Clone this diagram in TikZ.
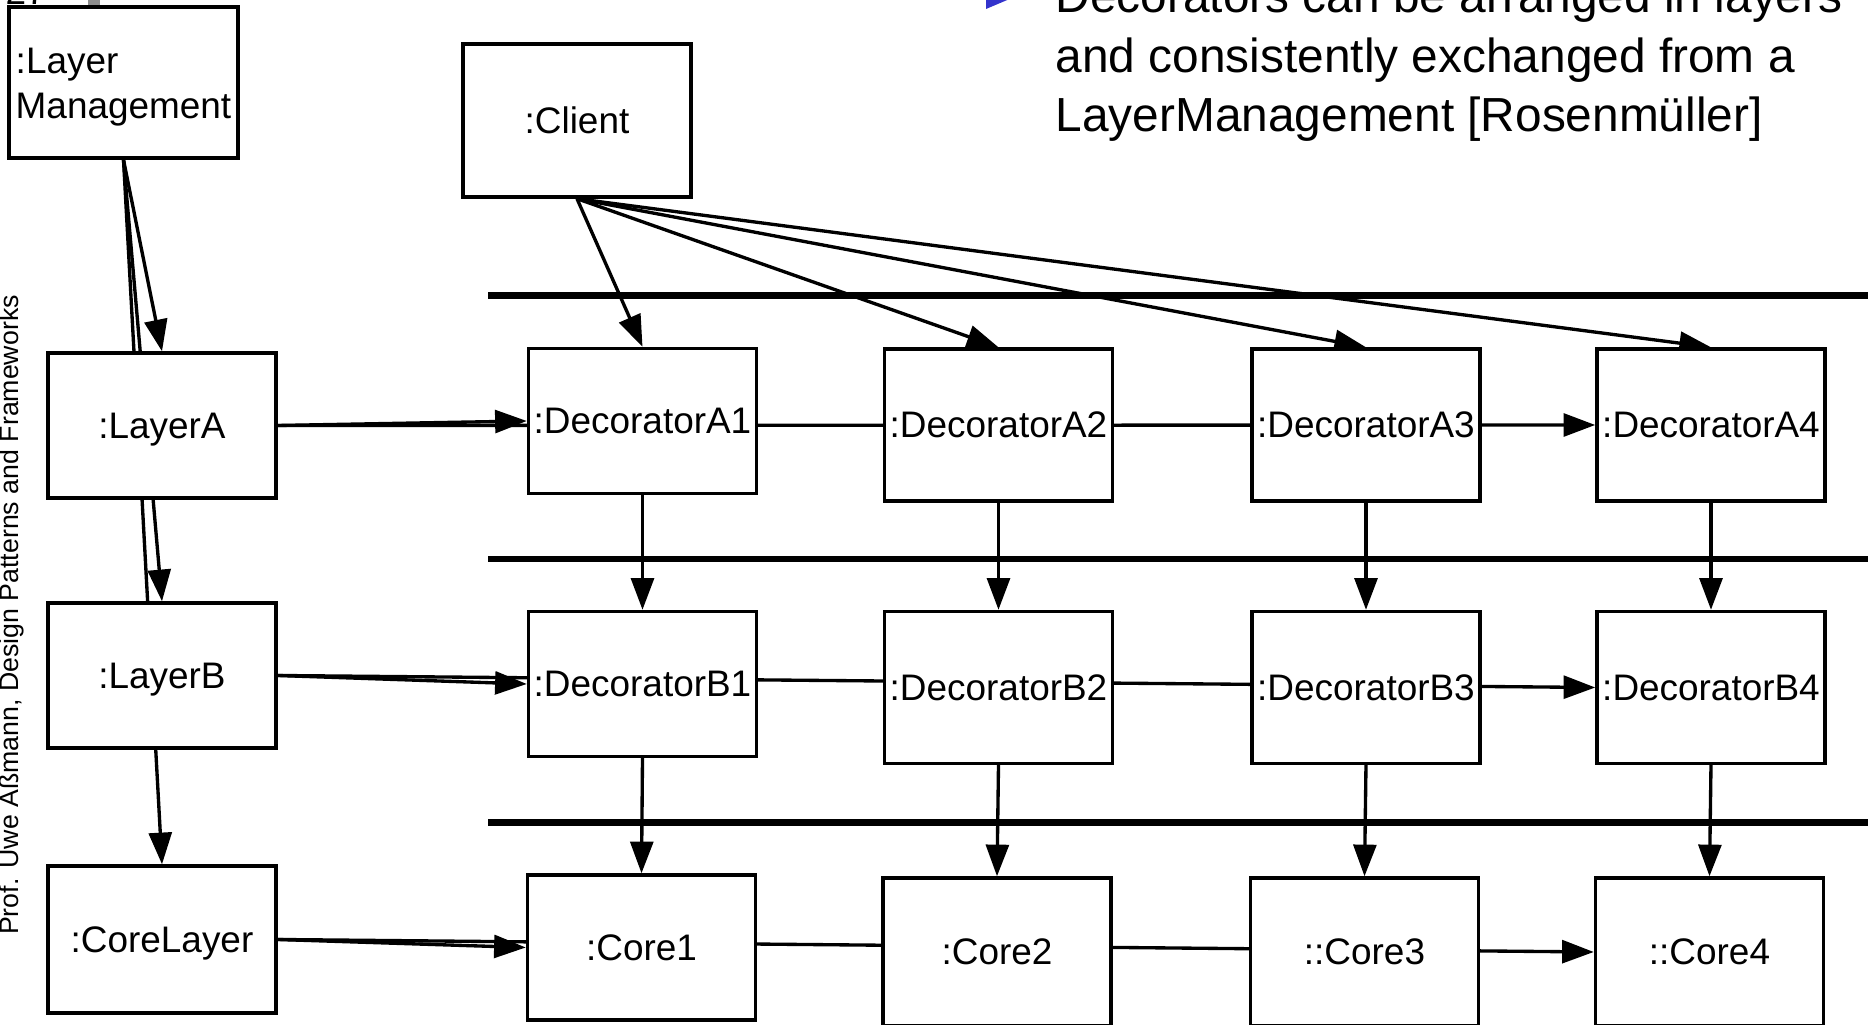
\documentclass[tikz,border=0pt]{standalone}
\usepackage{fontspec}
\setmainfont{Liberation Sans}
\usepackage{xcolor}
\usetikzlibrary{arrows.meta, backgrounds}

\definecolor{bullet}{RGB}{51,51,204}
\definecolor{balken}{RGB}{140,140,140}

\begin{document}
\begin{tikzpicture}[x=0.01cm, y=-0.01cm, line width=0.95pt,
		>={Triangle[length=9pt,width=6.5pt]},
		obj/.style={draw, fill=white, inner sep=0pt, minimum width=2.28cm, minimum height=1.52cm, text height=0.716em, text depth=0pt, font=\fontsize{10.5}{12.8}\selectfont},
		kurz/.style={minimum height=1.45cm},
		verb/.style={->, line width=0.95pt},
		trenner/.style={line width=1.95pt}]
		\useasboundingbox (0,0) rectangle (1868,1025);
		
		% Kopfzeile
		\fill[balken] (88,0) rectangle (100,8);
		\node[anchor=base west, inner sep=0pt, font=\fontsize{10.5}{12}\selectfont] (nr) at (4,5) {27};
		\fill[bullet] (986,-13) -- (1012,-2) -- (986,9) -- cycle;
		\node[anchor=base west, inner sep=0pt, font=\fontsize{13.6}{17}\selectfont] (txtA) at (1054,13) {Decorators can be arranged in layers};
		\node[anchor=base west, inner sep=0pt, font=\fontsize{13.6}{17}\selectfont] (txtB) at (1054,73) {and consistently exchanged from a};
		\node[anchor=base west, inner sep=0pt, font=\fontsize{13.6}{17}\selectfont] (txtC) at (1054,131.5) {LayerManagement [Rosenmüller]};
		\node[rotate=90, anchor=base, inner sep=0pt, font=\fontsize{7.6}{9}\selectfont] (autor) at (18.5,615) {Prof. Uwe Aßmann, Design Patterns and Frameworks};
		
		% Schichten
		\node[obj, minimum width=2.29cm, minimum height=1.51cm, text height=, text depth=, align=left] (lm) at (123.5,82.5) {\rule{0pt}{10pt}:Layer\\Management};
		\node[obj, minimum height=1.53cm] (client) at (577,120.5) {:Client};
		\node[obj, kurz] (layA) at (162,425.5) {:LayerA};
		\node[obj, kurz] (layB) at (162,675.5) {:LayerB};
		\node[obj, minimum height=1.47cm] (core) at (162,939.5) {:CoreLayer};
		
		% Trennlinien
		\draw[trenner] (488,295.5) -- (1868,295.5);
		\draw[trenner] (488,559) -- (1868,559);
		\draw[trenner] (488,822.5) -- (1868,822.5);
		
		% Dekorierer
		\node[obj, kurz] (decA1) at (642.5,421) {:DecoratorA1};
		\node[obj, kurz] (decB1) at (642.5,684) {:DecoratorB1};
		\node[obj, kurz] (core1) at (641.5,947.5) {:Core1};
		\foreach \i/\x/\k in {2/998.5/:, 3/1366/::, 4/1711/::}
		{
			\node[obj] (decA\i) at (\x,425) {:DecoratorA\i};
			\node[obj] (decB\i) at (\x,687.5) {:DecoratorB\i};
			\node[obj, minimum height=1.48cm] (core\i) at (\x-1.5,952) {\k Core\i};
		}
		
		% Pfeile
		\begin{scope}[on background layer]
			\foreach \i in {1,...,4}
			\draw[verb] (client.south) -- (decA\i.north);
			\draw[verb] (lm.south) -- (layA.north);
			\draw[verb] (lm.south) -- (layB.north);
			\draw[verb] (lm.south) -- (core.north);
			\draw[verb] (layA.east) -- (decA1.west);
			\draw[verb] (layA.east) -- (decA4.west);
			\draw[verb] (layB.east) -- (decB1.west);
			\draw[verb] (layB.east) -- (decB4.west);
			\draw[verb] (core.east) -- (core1.west);
			\draw[verb] (core.east) -- (core4.west);
			\foreach \i in {1,...,4}
			{
				\draw[verb] (decA\i.south) -- (decB\i.north);
				\draw[verb] (decB\i.south) -- (core\i.north);
			}
		\end{scope}
	\end{tikzpicture}
\end{document}
